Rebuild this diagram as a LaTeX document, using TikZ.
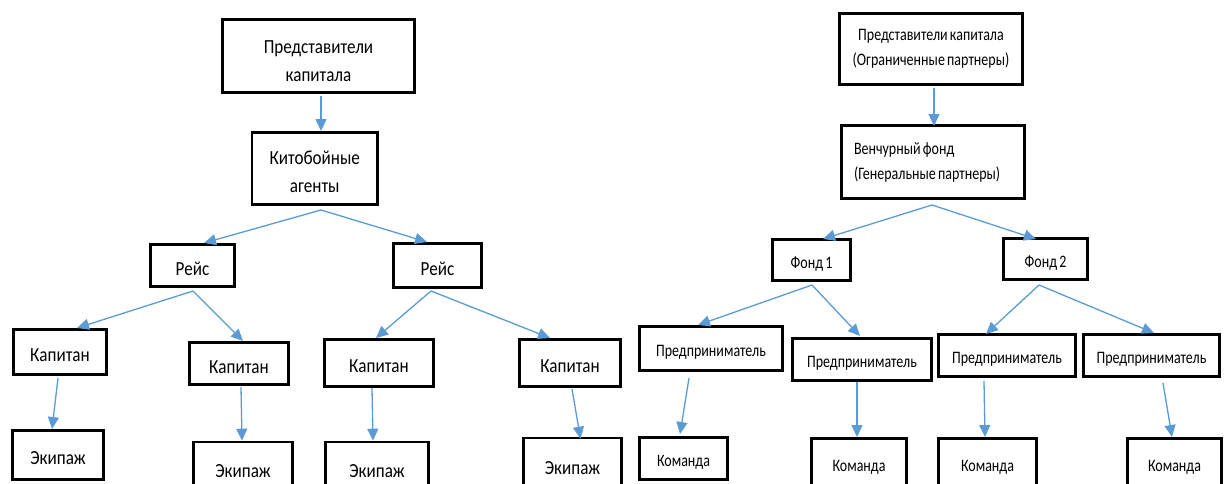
\documentclass[tikz,border=0pt]{standalone}
\usepackage{fontspec}
\setmainfont{Carlito}[FakeStretch=0.855]
\newfontfamily\rfont{Carlito}[FakeStretch=0.8,WordSpace=0.7]
\usetikzlibrary{arrows.meta,calc}
\definecolor{arrowblue}{RGB}{91,155,213}
\begin{document}
\begin{tikzpicture}[x=1pt,y=-1pt,
  bx/.style={draw=black, line width=2.6pt, inner sep=0pt, outer sep=1.3pt, align=center},
  lt/.style={font=\fontsize{20}{28}\selectfont},
  rt/.style={font=\rfont\fontsize{17.5}{25}\selectfont},
  lone/.style={text height=19pt, text depth=0pt},
  rone/.style={text height=16.3pt, text depth=0pt},
  arr/.style={draw=arrowblue, line width=1.3pt, -{Triangle[length=12pt,width=11pt]}}]
\useasboundingbox (0,0) rectangle (1224,483);
\clip (0,0) rectangle (1224,483);
% ---------- left tree ----------
\node[bx,lt,minimum width=192.4pt,minimum height=73.4pt] (A) at (318.5,56) {\rule{0pt}{23pt}Представители\\капитала};
\node[bx,lt,minimum width=125.9pt,minimum height=72.4pt] (B) at (314.75,168.5) {\rule{0pt}{21pt}Китобойные\\агенты};
\node[bx,lt,lone,minimum width=84.4pt,minimum height=42.4pt] (R1) at (192.5,265.5) {Рейс};
\node[bx,lt,lone,minimum width=88.4pt,minimum height=44.4pt] (R2) at (437.5,265.5) {Рейс};
\node[bx,lt,lone,minimum width=93.4pt,minimum height=45.4pt] (K1) at (60,352) {Капитан};
\node[bx,lt,lone,minimum width=99.4pt,minimum height=42.4pt] (K2) at (239,363.5) {Капитан};
\node[bx,lt,lone,minimum width=109.4pt,minimum height=47.4pt] (K3) at (379,363) {Капитан};
\node[bx,lt,lone,minimum width=101.4pt,minimum height=47.4pt] (K4) at (570,363) {Капитан};
\node[bx,lt,lone,minimum width=91.4pt,minimum height=49.4pt] (E1) at (58,455) {Экипаж};
\node[bx,lt,lone,minimum width=99.4pt,minimum height=52pt] (E2) at (243,468) {Экипаж};
\node[bx,lt,lone,minimum width=103pt,minimum height=52pt] (E3) at (377,468) {Экипаж};
\node[bx,lt,lone,minimum width=98.4pt,minimum height=54pt] (E4) at (572.5,465) {Экипаж};
\draw[arr] ($(A.south)+(2.5,2)$) -- ($(B.north)+(6.25,0)$);
\draw[arr] ($(B.south)+(6.25,4)$) -- ($(R1.north)+(11.5,0)$);
\draw[arr] ($(B.south)+(6.25,4)$) -- ($(R2.north)+(-10.5,0)$);
\draw[arr] ($(R1.south)+(0.5,3)$) -- ($(K1.north)+(17,0)$);
\draw[arr] ($(R1.south)+(0.5,3)$) -- ($(K2.north)+(4,0)$);
\draw[arr] ($(R2.south)+(-6.5,2)$) -- ($(K3.north)+(-3,0)$);
\draw[arr] ($(R2.south)+(-6.5,2)$) -- ($(K4.north)+(-20,0)$);
\draw[arr] ($(K1.south)+(-2,2)$) -- ($(E1.north)+(-6,0)$);
\draw[arr] ($(K2.south)+(2,1)$) -- ($(E2.north)+(-1,0)$);
\draw[arr] ($(K3.south)+(-7,0)$) -- ($(E3.north)+(-4,0)$);
\draw[arr] ($(K4.south)+(2,1)$) -- ($(E4.north)+(8,2)$);
% ---------- right tree ----------
\node[bx,rt,minimum width=183.4pt,minimum height=71.4pt] (PA) at (931,49) {Представители капитала\\(Ограниченные партнеры)};
\node[bx,rt,minimum width=183.4pt,minimum height=73.4pt,text width=158pt,align=flush left] (VF) at (933,162) {Венчурный фонд\\(Генеральные партнеры)};
\node[bx,rt,rone,minimum width=78.4pt,minimum height=41.4pt] (F1) at (811.5,260) {Фонд 1};
\node[bx,rt,rone,minimum width=84.4pt,minimum height=41.4pt] (F2) at (1045.5,259) {Фонд 2};
\node[bx,rt,rone,minimum width=143.4pt,minimum height=44.4pt] (P1) at (711,348.5) {Предприниматель};
\node[bx,rt,rone,minimum width=139.4pt,minimum height=42.4pt] (P2) at (862,359.5) {Предприниматель};
\node[bx,rt,rone,minimum width=137.4pt,minimum height=42.4pt] (P3) at (1007,355.5) {Предприниматель};
\node[bx,rt,rone,minimum width=136.4pt,minimum height=42.4pt] (P4) at (1151.5,355.5) {Предприниматель};
\node[bx,rt,rone,minimum width=88.4pt,minimum height=42.4pt] (C1) at (683.5,458.5) {Команда};
\node[bx,rt,rone,minimum width=95.4pt,minimum height=49.4pt] (C2) at (859,463) {Команда};
\node[bx,rt,rone,minimum width=98.4pt,minimum height=49.4pt] (C3) at (987.5,463) {Команда};
\node[bx,rt,rone,minimum width=94.4pt,minimum height=49.4pt] (C4) at (1174.5,463) {Команда};
\draw[arr] ($(PA.south)+(3,2)$) -- ($(VF.north)+(1,2)$);
\draw[arr] ($(VF.south)+(-1,5)$) -- ($(F1.north)+(11.5,1)$);
\draw[arr] ($(VF.south)+(-1,5)$) -- ($(F2.north)+(-9.5,2)$);
\draw[arr] ($(F1.south)+(0.5,3)$) -- ($(P1.north)+(-13,0)$);
\draw[arr] ($(F1.south)+(0.5,3)$) -- ($(P2.north)+(-2,-1)$);
\draw[arr] ($(F2.south)+(-6.5,4)$) -- ($(P3.north)+(-21,1)$);
\draw[arr] ($(F2.south)+(-6.5,4)$) -- ($(P4.north)+(2.5,0)$);
\draw[arr] ($(P1.south)+(-22,6)$) -- ($(C1.north)+(-3.5,-2)$);
\draw[arr] ($(P2.south)+(-5,0)$) -- ($(C2.north)+(-2,0)$);
\draw[arr] ($(P3.south)+(-23,3)$) -- ($(C3.north)+(-2.5,0)$);
\draw[arr] ($(P4.south)+(11.5,5)$) -- ($(C4.north)+(-2.5,0)$);
\end{tikzpicture}
\end{document}
